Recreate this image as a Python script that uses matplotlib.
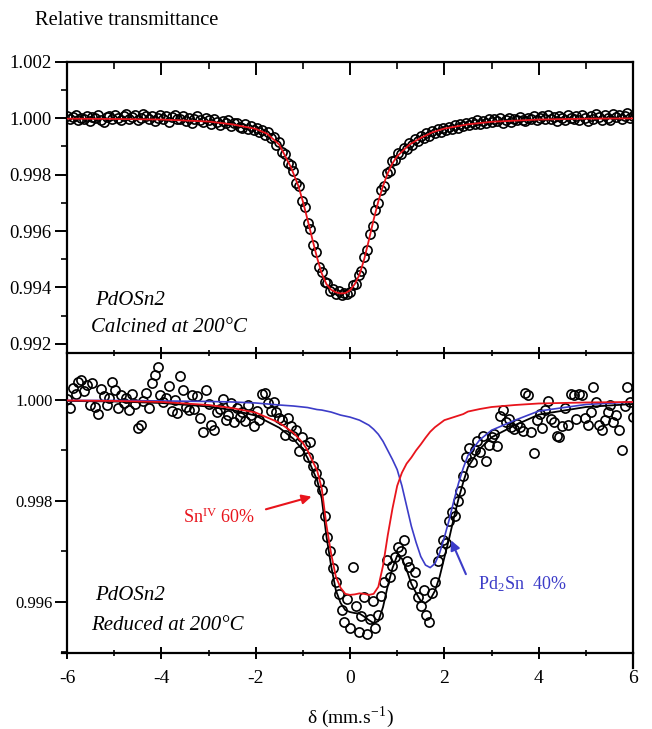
import numpy as np
import matplotlib
matplotlib.use("Agg")
import matplotlib.pyplot as plt
from matplotlib.lines import Line2D
from matplotlib.ticker import MultipleLocator, FormatStrFormatter

plt.rcParams["font.family"] = ["Liberation Serif", "DejaVu Serif"]
plt.rcParams["mathtext.fontset"] = "stix"

# ---------------------------------------------------------------- data
# velocity channels (mm/s), evenly spaced over the sweep
V_MIN, V_MAX, N_CH = -6.0, 6.0, 201

# calcined sample: measured relative transmission per channel
calcined_counts = [
    1.00008, 0.99996, 1.00004, 1.00010, 0.99992, 1.00002, 0.99998, 1.00006, 0.99990, 1.00004,
    1.00000, 1.00010, 0.99994, 0.99988, 1.00004, 1.00008, 0.99996, 1.00012, 1.00002, 0.99994,
    1.00006, 1.00014, 0.99998, 1.00004, 1.00010, 0.99994, 1.00002, 1.00016, 1.00006, 0.99996,
    1.00008, 0.99990, 1.00002, 1.00012, 0.99996, 1.00006, 0.99986, 1.00004, 1.00010, 0.99998,
    0.99996, 1.00008, 0.99990, 1.00002, 0.99984, 0.99998, 1.00006, 0.99992, 0.99986, 1.00000,
    0.99992, 0.99980, 0.99996, 0.99986, 0.99976, 0.99990, 0.99982, 0.99994, 0.99972, 0.99984,
    0.99984, 0.99970, 0.99966, 0.99978, 0.99960, 0.99972, 0.99958, 0.99964, 0.99950, 0.99958,
    0.99940, 0.99950, 0.99928, 0.99932, 0.99906, 0.99914, 0.99880, 0.99874, 0.99840, 0.99834,
    0.99812, 0.99770, 0.99760, 0.99708, 0.99686, 0.99630, 0.99606, 0.99550, 0.99526, 0.99474,
    0.99456, 0.99420, 0.99416, 0.99388, 0.99396, 0.99376, 0.99388, 0.99372, 0.99382, 0.99378,
    0.99384, 0.99410, 0.99412, 0.99446, 0.99460, 0.99508, 0.99534, 0.99590, 0.99618, 0.99674,
    0.99698, 0.99746, 0.99760, 0.99804, 0.99812, 0.99848, 0.99850, 0.99876, 0.99872, 0.99894,
    0.99892, 0.99912, 0.99906, 0.99926, 0.99918, 0.99936, 0.99928, 0.99946, 0.99938, 0.99954,
    0.99948, 0.99960, 0.99952, 0.99966, 0.99958, 0.99970, 0.99962, 0.99976, 0.99966, 0.99980,
    0.99972, 0.99984, 0.99976, 0.99988, 0.99978, 0.99992, 0.99980, 0.99990, 0.99984, 0.99996,
    0.99986, 0.99996, 0.99990, 1.00000, 0.99984, 0.99994, 1.00002, 0.99988, 0.99998, 0.99992,
    1.00004, 0.99994, 0.99990, 1.00002, 0.99996, 1.00008, 0.99992, 1.00000, 1.00006, 0.99996,
    1.00010, 0.99998, 1.00004, 0.99990, 1.00008, 1.00002, 0.99994, 1.00012, 1.00000, 0.99996,
    1.00006, 0.99992, 1.00010, 1.00002, 0.99990, 1.00008, 0.99998, 1.00014, 1.00004, 0.99994,
    1.00010, 1.00000, 0.99992, 1.00014, 1.00004, 1.00012, 0.99996, 1.00008, 1.00018, 1.00002,
    1.00006,
]

# reduced sample: measured relative transmission per channel
reduced_counts = [
    1.00002, 0.99984, 1.00024, 1.00012, 1.00036, 1.00040, 1.00018, 1.00030, 0.99990, 1.00034,
    0.99986, 0.99972, 1.00022, 1.00008, 0.99990, 1.00004, 1.00036, 1.00020, 0.99984, 1.00010,
    0.99994, 1.00004, 0.99980, 1.00012, 0.99992, 0.99944, 0.99950, 0.99998, 1.00014, 0.99984,
    1.00034, 1.00050, 1.00066, 1.00010, 0.99996, 1.00004, 1.00028, 0.99978, 1.00000, 0.99974,
    1.00048, 1.00020, 0.99986, 0.99980, 1.00010, 0.99982, 1.00008, 0.99964, 0.99936, 1.00020,
    0.99992, 0.99950, 0.99940, 0.99976, 0.99982, 1.00002, 0.99960, 0.99970, 0.99994, 0.99956,
    0.99984, 0.99966, 0.99976, 0.99958, 0.99990, 0.99970, 0.99948, 0.99978, 0.99960, 1.00012,
    1.00014, 0.99994, 0.99978, 0.99996, 0.99976, 0.99964, 0.99960, 0.99930, 0.99964, 0.99948,
    0.99928, 0.99940, 0.99898, 0.99926, 0.99910, 0.99888, 0.99916, 0.99870, 0.99856, 0.99838,
    0.99822, 0.99770, 0.99728, 0.99700, 0.99668, 0.99640, 0.99615, 0.99585, 0.99560, 0.99605,
    0.99548, 0.99670, 0.99592, 0.99540, 0.99572, 0.99610, 0.99536, 0.99566, 0.99602, 0.99548,
    0.99574, 0.99612, 0.99640, 0.99684, 0.99650, 0.99672, 0.99690, 0.99708, 0.99700, 0.99722,
    0.99682, 0.99670, 0.99636, 0.99660, 0.99610, 0.99592, 0.99624, 0.99574, 0.99560, 0.99618,
    0.99640, 0.99682, 0.99700, 0.99722, 0.99716, 0.99760, 0.99778, 0.99770, 0.99800, 0.99820,
    0.99850, 0.99888, 0.99904, 0.99878, 0.99900, 0.99918, 0.99896, 0.99928, 0.99880, 0.99910,
    0.99926, 0.99932, 0.99908, 0.99968, 0.99980, 0.99956, 0.99962, 0.99946, 0.99942, 0.99952,
    0.99946, 0.99938, 1.00014, 1.00010, 0.99936, 0.99894, 0.99960, 0.99972, 0.99944, 0.99980,
    0.99998, 0.99962, 0.99956, 0.99928, 0.99926, 0.99948, 0.99984, 0.99950, 1.00012, 1.00010,
    0.99962, 1.00012, 1.00010, 0.99964, 0.99950, 0.99976, 1.00026, 0.99996, 0.99950, 0.99940,
    0.99960, 0.99976, 0.99990, 0.99956, 0.99970, 0.99940, 0.99900, 0.99988, 1.00026, 0.99996,
    0.99966,
]

# fitted envelope, calcined sample
calcined_fit_v = [-6, -5, -4, -3, -2.5, -2.0, -1.75, -1.5, -1.25, -1.1, -1.0, -0.9, -0.8,
                  -0.7, -0.6, -0.5, -0.4, -0.3, -0.2, -0.1, 0.0, 0.1, 0.2, 0.3, 0.4, 0.5,
                  0.6, 0.7, 0.8, 0.9, 1.0, 1.25, 1.5, 1.75, 2.0, 2.5, 3, 4, 5, 6]
calcined_fit = [0.99998, 0.99997, 0.99995, 0.99988, 0.99978, 0.99962, 0.99944, 0.99906,
                0.99825, 0.99762, 0.99705, 0.99640, 0.99572, 0.99506, 0.99450, 0.99412,
                0.99392, 0.99383, 0.99379, 0.99380, 0.99390, 0.99412, 0.99445, 0.99500,
                0.99568, 0.99640, 0.99705, 0.99760, 0.99805, 0.99840, 0.99865, 0.99905,
                0.99930, 0.99950, 0.99963, 0.99978, 0.99987, 0.99995, 0.99998, 0.99999]

# fitted sub-spectra and envelope, reduced sample
fit_v = [-6, -5, -4, -3, -2.5, -2, -1.5, -1.2, -1.0, -0.9, -0.8, -0.7, -0.6, -0.5, -0.4,
         -0.3, -0.2, -0.1, 0.0, 0.1, 0.2, 0.3, 0.4, 0.5, 0.6, 0.7, 0.8, 0.9, 1.0, 1.1,
         1.2, 1.3, 1.4, 1.5, 1.6, 1.7, 1.8, 1.9, 2.0, 2.1, 2.2, 2.3, 2.4, 2.5, 2.75,
         3.0, 3.5, 4.0, 5, 6]
sn4_fit = [0.99999, 0.99998, 0.99996, 0.99990, 0.99984, 0.99975, 0.99955, 0.99935,
           0.99915, 0.99900, 0.99880, 0.99861, 0.99825, 0.99752, 0.99695, 0.99650,
           0.99628, 0.99616, 0.99614, 0.99615, 0.99617, 0.99616, 0.99614, 0.99616,
           0.99630, 0.99672, 0.99732, 0.99785, 0.99830, 0.99856, 0.99874, 0.99886,
           0.99900, 0.99912, 0.99925, 0.99937, 0.99946, 0.99953, 0.99960, 0.99963,
           0.99966, 0.99969, 0.99972, 0.99977, 0.99982, 0.99986, 0.99990, 0.99993,
           0.99995, 0.99996]
pd2sn_fit = [0.99999, 0.99999, 0.99998, 0.99997, 0.99996, 0.99994, 0.99990, 0.99988,
             0.99986, 0.99985, 0.99983, 0.99981, 0.99980, 0.99978, 0.99976, 0.99973,
             0.99970, 0.99968, 0.99966, 0.99963, 0.99960, 0.99955, 0.99950, 0.99942,
             0.99932, 0.99918, 0.99900, 0.99882, 0.99862, 0.99830, 0.99790, 0.99750,
             0.99718, 0.99690, 0.99673, 0.99668, 0.99676, 0.99697, 0.99728, 0.99762,
             0.99800, 0.99835, 0.99865, 0.99890, 0.99921, 0.99940, 0.99960, 0.99978,
             0.99991, 0.99996]
total_fit = [0.99998, 0.99997, 0.99994, 0.99987, 0.99980, 0.99969, 0.99945, 0.99923,
             0.99901, 0.99885, 0.99863, 0.99842, 0.99805, 0.99730, 0.99671, 0.99623,
             0.99598, 0.99584, 0.99580, 0.99578, 0.99577, 0.99571, 0.99564, 0.99558,
             0.99562, 0.99590, 0.99632, 0.99667, 0.99692, 0.99686, 0.99664, 0.99636,
             0.99618, 0.99602, 0.99598, 0.99605, 0.99622, 0.99650, 0.99688, 0.99725,
             0.99766, 0.99804, 0.99837, 0.99867, 0.99903, 0.99926, 0.99950, 0.99971,
             0.99986, 0.99992]

x_ticks = [-6, -4, -2, 0, 2, 4, 6]
top_yticks = [0.992, 0.994, 0.996, 0.998, 1.000, 1.002]
bottom_yticks = [0.996, 0.998, 1.000]

RED = "#e8141c"
BLUE = "#3c3cc8"

velocity = np.linspace(V_MIN, V_MAX, N_CH)

# ---------------------------------------------------------------- figure
fig = plt.figure(figsize=(6.52, 7.29), dpi=100)
ax_top = fig.add_axes([0.1028, 0.5158, 0.8681, 0.3996])
ax_bot = fig.add_axes([0.1028, 0.1043, 0.8681, 0.4115])

marker_kw = dict(ls="none", marker="o", ms=6.6, mfc="none", mec="black", mew=1.2)

# calcined spectrum
ax_top.plot(velocity, calcined_counts, **marker_kw, zorder=2)
ax_top.plot(calcined_fit_v, calcined_fit, color=RED, lw=1.3, zorder=3)

# reduced spectrum
ax_bot.plot(velocity, reduced_counts, **marker_kw, zorder=2)
ax_bot.plot(fit_v, total_fit, color="black", lw=1.3, zorder=3)
ax_bot.plot(fit_v, pd2sn_fit, color=BLUE, lw=1.2, zorder=4)
ax_bot.plot(fit_v, sn4_fit, color=RED, lw=1.3, zorder=5)

for ax in (ax_top, ax_bot):
    ax.set_xlim(V_MIN, V_MAX)
    ax.xaxis.set_major_locator(MultipleLocator(2))
    ax.xaxis.set_minor_locator(MultipleLocator(1))
    ax.yaxis.set_major_locator(MultipleLocator(0.002))
    ax.yaxis.set_minor_locator(MultipleLocator(0.001))
    ax.yaxis.set_major_formatter(FormatStrFormatter("%.3f"))
    for s in ax.spines.values():
        s.set_linewidth(1.6)
    ax.tick_params(axis="y", which="major", direction="out", length=9, width=1.4,
                   left=True, right=False)
    ax.tick_params(axis="y", which="minor", direction="out", length=4.5, width=1.2,
                   left=True, right=False)

ax_top.set_ylim(0.99168, 1.002)
ax_top.tick_params(axis="x", which="both", top=True, bottom=False,
                   labeltop=False, labelbottom=False, direction="in")
ax_top.tick_params(axis="x", which="major", length=9, width=1.4)
ax_top.tick_params(axis="x", which="minor", length=5, width=1.2)
ax_top.tick_params(axis="y", labelsize=13.5, pad=2)
ax_top.spines["bottom"].set_visible(False)

ax_bot.set_ylim(0.99499, 1.00093)
ax_bot.set_yticks(bottom_yticks)
ax_bot.tick_params(axis="x", which="both", top=True, bottom=True,
                   labeltop=False, labelbottom=True, direction="inout")
ax_bot.tick_params(axis="x", which="major", length=8, width=1.4, labelsize=14, pad=8)
ax_bot.tick_params(axis="x", which="minor", length=4, width=1.2)
ax_bot.tick_params(axis="y", labelsize=12, pad=1)
ax_bot.set_xticks(x_ticks)
ax_bot.set_xticklabels([str(t) for t in x_ticks])

# right spine runs past the velocity axis, and the axis line past the left spine
ax_bot.add_line(Line2D([1, 1], [0, -0.05], transform=ax_bot.transAxes,
                       color="black", lw=1.6, clip_on=False))
ax_bot.add_line(Line2D([-0.009, 0], [0, 0], transform=ax_bot.transAxes,
                       color="black", lw=1.6, clip_on=False))

ax_bot.set_xlabel(r"δ (mm.s$^{\mathregular{-1}}$)", fontsize=14, labelpad=13)
fig.text(0.054, 0.972, "Relative transmittance", fontsize=14.8, va="center", ha="left")

# sample labels
ax_top.text(0.05, 0.18, "PdOSn2", style="italic", fontsize=15,
            transform=ax_top.transAxes, va="center")
ax_top.text(0.042, 0.089, "Calcined at 200°C", style="italic", fontsize=15,
            transform=ax_top.transAxes, va="center")
ax_bot.text(0.05, 0.19, "PdOSn2", style="italic", fontsize=15,
            transform=ax_bot.transAxes, va="center")
ax_bot.text(0.042, 0.09, "Reduced at 200°C", style="italic", fontsize=15,
            transform=ax_bot.transAxes, va="center")

# component labels with arrows
ax_bot.annotate("", xy=(-0.76, 0.99810), xytext=(-1.84, 0.99782),
                arrowprops=dict(arrowstyle="-|>", color=RED, lw=1.5,
                                mutation_scale=14))
ax_bot.text(-2.0, 0.99768, r"Sn$^{\mathregular{IV}}$ 60%", color=RED, fontsize=13,
            ha="right", va="center")
ax_bot.annotate("", xy=(2.12, 0.99727), xytext=(2.48, 0.99650),
                arrowprops=dict(arrowstyle="-|>", color=BLUE, lw=1.5,
                                mutation_scale=14))
ax_bot.text(2.72, 0.99634, r"Pd$_{\mathregular{2}}$Sn  40%", color=BLUE, fontsize=13,
            ha="left", va="center")

fig.savefig("out.png", dpi=100)
